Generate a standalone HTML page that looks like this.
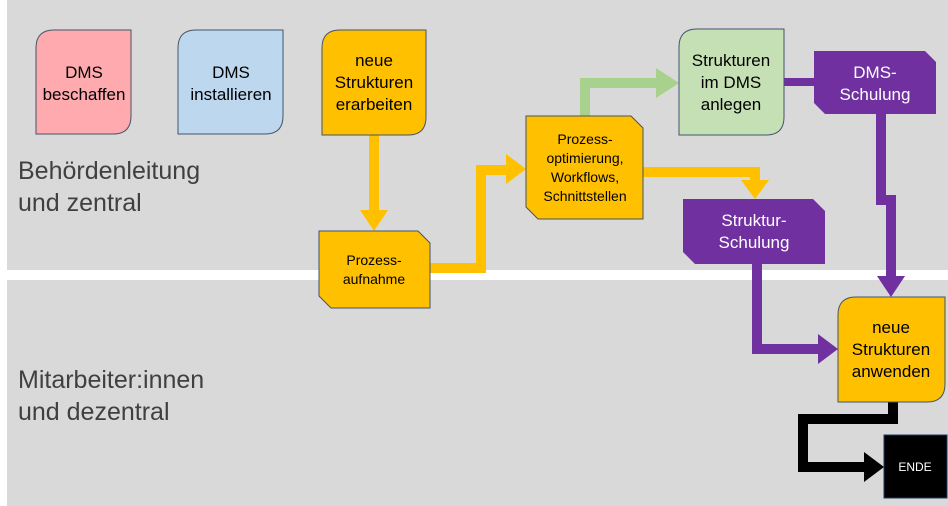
<!DOCTYPE html>
<html><head><meta charset="utf-8"><style>
html,body{margin:0;padding:0;background:#fff;}
svg{display:block;}
text{font-family:"Liberation Sans",sans-serif;}
</style></head><body>
<svg width="948" height="506" viewBox="0 0 948 506" xmlns="http://www.w3.org/2000/svg">
<rect x="7" y="0" width="941" height="270" fill="#d9d9d9"/>
<rect x="7" y="280" width="941" height="226" fill="#d9d9d9"/>

<g font-size="25" fill="#404040">
<text x="18" y="179">Behördenleitung</text>
<text x="18" y="211">und zentral</text>
<text x="18" y="388">Mitarbeiter:innen</text>
<text x="18" y="420">und dezentral</text>
</g>

<!-- connectors -->
<g fill="none" stroke-linejoin="miter">
<polyline points="374,135 374,212" stroke="#ffc000" stroke-width="10"/>
<polygon points="360,210 388,210 374,231" fill="#ffc000" stroke="none"/>
<polyline points="430,268 481,268 481,170 508,170" stroke="#ffc000" stroke-width="10"/>
<polygon points="506,154 526,169 506,184" fill="#ffc000" stroke="none"/>
<polyline points="585,116 585,83 660,83" stroke="#a9d18e" stroke-width="10"/>
<polygon points="656,68 679,83 656,98" fill="#a9d18e" stroke="none"/>
<polyline points="643,172 755,172 755,182" stroke="#ffc000" stroke-width="10"/>
<polygon points="741,180 769,180 755,199" fill="#ffc000" stroke="none"/>
<polyline points="784,82 814,82" stroke="#7030a0" stroke-width="8"/>
<polyline points="881,114 881,200 891,200 891,278" stroke="#7030a0" stroke-width="10"/>
<polygon points="877,276 905,276 891,297" fill="#7030a0" stroke="none"/>
<polyline points="757,264 757,349 820,349" stroke="#7030a0" stroke-width="10"/>
<polygon points="818,334 838,349 818,364" fill="#7030a0" stroke="none"/>
<polyline points="893,402 893,419 803,419 803,467 866,467" stroke="#000" stroke-width="10"/>
<polygon points="864,452 884,467 864,482" fill="#000" stroke="none"/>
</g>

<!-- shapes -->
<g stroke="#44546a" stroke-width="1">
<path d="M54,30 H131 V116 Q131,134 113,134 H36 V48 Q36,30 54,30 Z" fill="#ffaaae"/>
<path d="M196,30 H283 V116 Q283,134 265,134 H178 V48 Q178,30 196,30 Z" fill="#bdd7ee"/>
<path d="M340,30 H426 V117 Q426,135 408,135 H322 V48 Q322,30 340,30 Z" fill="#ffc000"/>
<path d="M319,231 H418 L430,243 V308 H331 L319,296 Z" fill="#ffc000"/>
<path d="M526,116 H631 L643,128 V219 H538 L526,207 Z" fill="#ffc000"/>
<path d="M697,29 H784 V117 Q784,135 766,135 H679 V47 Q679,29 697,29 Z" fill="#c5e0b4"/>
<path d="M856,297 H945 V384 Q945,402 927,402 H838 V315 Q838,297 856,297 Z" fill="#ffc000"/>
</g>
<path d="M814,51 H925 L936,62 V114 H825 L814,103 Z" fill="#7030a0"/>
<path d="M683,199 H813 L825,211 V264 H695 L683,252 Z" fill="#7030a0"/>
<rect x="884" y="435" width="63" height="63" fill="#000" stroke="#203864" stroke-width="1"/>

<!-- labels -->
<g font-size="17" fill="#000" text-anchor="middle">
<text x="84" y="78">DMS</text><text x="84" y="100">beschaffen</text>
<text x="231" y="78">DMS</text><text x="231" y="100">installieren</text>
<text x="374" y="66">neue</text><text x="374" y="88">Strukturen</text><text x="374" y="110">erarbeiten</text>
<text x="731" y="66">Strukturen</text><text x="731" y="88">im DMS</text><text x="731" y="110">anlegen</text>
<text x="891" y="333">neue</text><text x="891" y="355">Strukturen</text><text x="891" y="377">anwenden</text>
</g>
<g font-size="14" fill="#000" text-anchor="middle">
<text x="374" y="265">Prozess-</text><text x="374" y="284">aufnahme</text>
<text x="585" y="144">Prozess-</text><text x="585" y="163">optimierung,</text><text x="585" y="182">Workflows,</text><text x="585" y="201">Schnittstellen</text>
</g>
<g font-size="17" fill="#fff" text-anchor="middle">
<text x="875" y="78">DMS-</text><text x="875" y="100">Schulung</text>
<text x="754" y="226">Struktur-</text><text x="754" y="248">Schulung</text>
</g>
<text x="915" y="471" font-size="12" fill="#fff" text-anchor="middle">ENDE</text>
</svg>
</body></html>
